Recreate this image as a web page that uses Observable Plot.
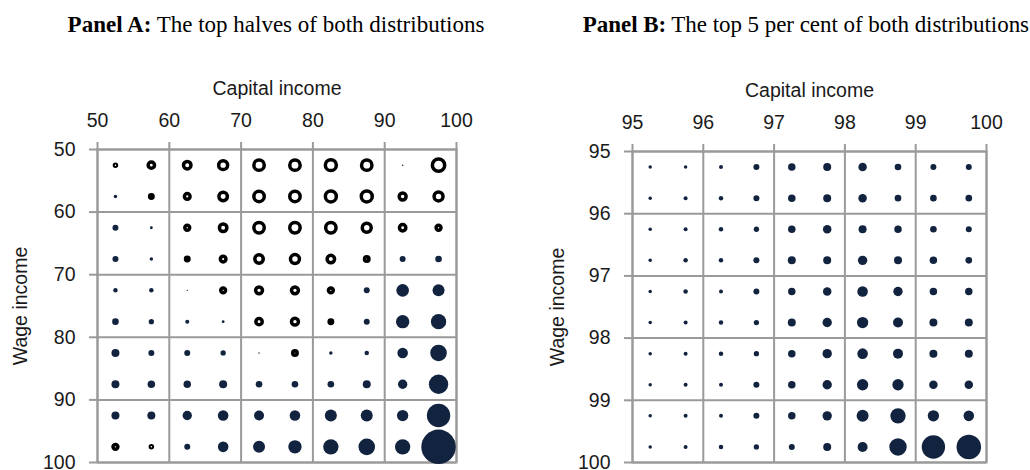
<!DOCTYPE html>
<html>
<head>
<meta charset="utf-8">
<script src="https://cdn.jsdelivr.net/npm/d3@7"></script>
<script src="https://cdn.jsdelivr.net/npm/@observablehq/plot@0.6"></script>
<style>
  html, body { margin: 0; padding: 0; background: #fff; overflow: hidden; }
  #wrap { position: relative; width: 1030px; height: 470px; background: #fff; }
  .title { position: absolute; top: 13px;
           font-family: "Liberation Serif", "Times New Roman", serif; font-size: 23px;
           line-height: 23px; color: #000; white-space: nowrap; }
  .title b { font-weight: bold; }
  .panel { position: absolute; top: 40px; }
</style>
</head>
<body>
<div id="wrap">
  <div class="title" style="left:-24px; width:600px; text-align:center"><b>Panel A:</b> The top halves of both distributions</div>
  <div class="title" style="right:1px; text-align:right; letter-spacing:-0.05px"><b>Panel B:</b> The top 5 per cent of both distributions</div>
  <div class="panel" id="pa" style="left:0px"></div>
  <div class="panel" id="pb" style="left:515px"></div>
</div>
<script>
// ---- Panel A: top halves (percentile bins of 5) ----
const capitalA = [52.5, 57.5, 62.5, 67.5, 72.5, 77.5, 82.5, 87.5, 92.5, 97.5];
const wageA    = [52.5, 57.5, 62.5, 67.5, 72.5, 77.5, 82.5, 87.5, 92.5, 97.5];
const ticksA   = [50, 60, 70, 80, 90, 100];
// rows = wage bins, columns = capital bins; bubble area ∝ |value|, negative = hollow
const valuesA = [
  [-1, -10, -14, -20, -27, -27, -30, -27, 0.6, -38],
  [ 3,  -3,  -8, -18, -27, -27, -30, -30, -12, -20],
  [ 9,   2,  -6, -14, -27, -27, -27, -20, -10,  -6],
  [ 9,   3,  -3,  -8, -18, -20, -14,  -5,   9,  11],
  [ 5,   5, 0.5,  -6, -12, -12,  -6,   9,  40,  36],
  [11,   7,   4,   2, -10, -12,  -3,   9,  45,  59],
  [16,   9,   9,   7, 0.5,  -5,   3,   5,  28,  69],
  [16,  14,  14,  16,  11,  11,  11,  16,  22,  94],
  [16,  16,  22,  28,  25,  28,  36,  36,  32, 137],
  [-6,  -1,   9,  28,  36,  45,  59,  69,  59, 299]
];

// ---- Panel B: top 5 per cent (bins of 0.5) ----
const capitalB = [95.25, 95.75, 96.25, 96.75, 97.25, 97.75, 98.25, 98.75, 99.25, 99.75];
const wageB    = [95.25, 95.75, 96.25, 96.75, 97.25, 97.75, 98.25, 98.75, 99.25, 99.75];
const ticksB   = [95, 96, 97, 98, 99, 100];
const valuesB = [
  [3, 3, 4, 9, 14, 16, 18, 11,  9,  9],
  [3, 4, 5, 9, 14, 16, 18, 11, 11, 11],
  [3, 4, 5, 7, 14, 18, 16, 14, 11,  9],
  [3, 5, 5, 9, 16, 16, 22, 16, 14, 11],
  [3, 5, 4, 9, 14, 18, 28, 22, 14, 14],
  [3, 4, 5, 7, 16, 22, 32, 25, 16, 16],
  [3, 4, 5, 7, 14, 22, 28, 25, 16, 16],
  [3, 4, 4, 9, 14, 22, 32, 32, 18, 18],
  [3, 4, 4, 9, 14, 22, 36, 59, 32, 28],
  [3, 4, 5, 7,  9, 16, 25, 76, 137, 151]
];

const NAVY = "#12233f";
const GRID = "#9a9a9a";
const FONT = "'Liberation Sans', Arial, sans-serif";

function table(xs, ys, vals) {
  return ys.flatMap((y, i) => xs.map((x, j) => ({x, y, v: vals[i][j]})));
}

function panel(xs, ys, vals, ticks, m) {
  const data = table(xs, ys, vals);
  const pos = data.filter(d => d.v > 0);
  const neg = data.filter(d => d.v < 0);
  return Plot.plot({
    width: 515, height: 430,
    marginLeft: m.left, marginRight: m.right, marginTop: m.top, marginBottom: m.bottom,
    style: {fontFamily: FONT, fontSize: "19.5px", color: "#1a1a1a", background: "transparent"},
    x: {domain: [ticks[0], ticks[ticks.length - 1]]},
    y: {domain: [ticks[0], ticks[ticks.length - 1]], reverse: true},
    r: {type: "sqrt", domain: [0, 300], range: [0, 17.3]},
    marks: [
      Plot.gridX(ticks, {stroke: GRID, strokeOpacity: 1, strokeWidth: 2}),
      Plot.gridY(ticks, {stroke: GRID, strokeOpacity: 1, strokeWidth: 2}),
      Plot.frame({stroke: GRID, strokeWidth: 2}),
      Plot.axisX(ticks, {anchor: "top", tickSize: 8, tickPadding: 15, stroke: GRID, strokeWidth: 2,
        tickFormat: d => String(d), fill: "#1a1a1a",
        label: "Capital income", labelAnchor: "center", labelArrow: "none", labelOffset: 68}),
      Plot.axisY(ticks, {anchor: "left", tickSize: 8, tickPadding: 14, stroke: GRID, strokeWidth: 2,
        tickFormat: d => String(d), fill: "#1a1a1a",
        label: "Wage income", labelAnchor: "center", labelArrow: "none", labelOffset: m.labelY}),
      Plot.dot(pos, {x: "x", y: "y", r: "v", fill: NAVY, stroke: "none"}),
      Plot.dot(neg, {x: "x", y: "y", r: d => -d.v, fill: "white", stroke: "black", strokeWidth: 3.5})
    ]
  });
}

document.getElementById("pa").append(
  panel(capitalA, wageA, valuesA, ticksA, {left: 97, right: 59, top: 109, bottom: 8, labelY: 84}));
document.getElementById("pb").append(
  panel(capitalB, wageB, valuesB, ticksB, {left: 117, right: 44, top: 111, bottom: 8, labelY: 82}));
</script>
</body>
</html>
